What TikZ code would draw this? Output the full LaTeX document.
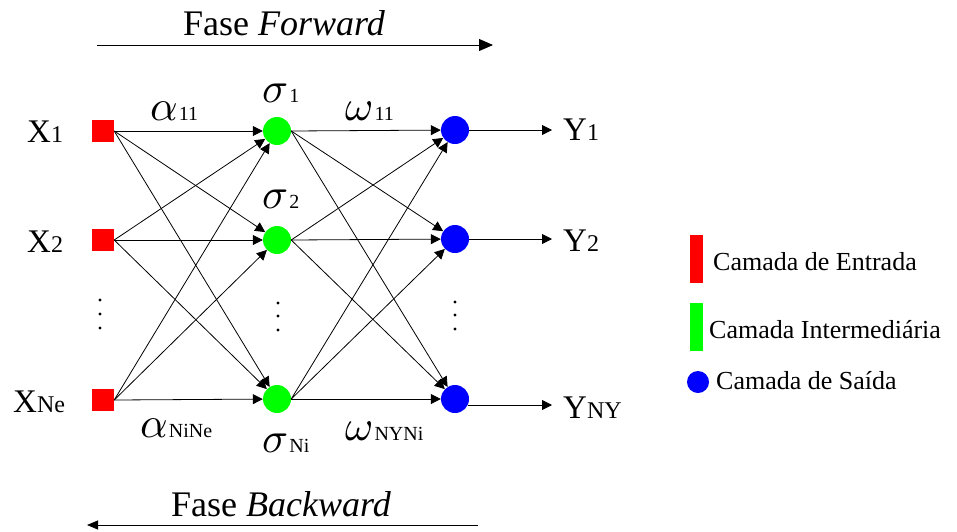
\documentclass[tikz,border=0pt]{standalone}
\usepackage{fontspec}
\setmainfont{Liberation Serif}
\usetikzlibrary{arrows.meta}
\begin{document}
\begin{tikzpicture}[x=1pt,y=-1pt,
  arr/.style={-{Triangle[length=10pt,width=10pt]},line width=0.8pt},
  inbox/.style={rectangle,fill=red,minimum size=22pt,inner sep=0pt},
  hidnode/.style={circle,fill=green,minimum size=28pt,inner sep=0pt},
  outnode/.style={circle,fill=blue,minimum size=28pt,inner sep=0pt},
  lbl/.style={inner sep=0pt,anchor=base west},
  dotmark/.style={circle,fill=black,minimum size=3.4pt,inner sep=0pt},
  big/.style={font=\fontsize{33}{33}\selectfont},
  legtxt/.style={inner sep=0pt,anchor=base west,font=\fontsize{26}{26}\selectfont},
  title/.style={inner sep=0pt,anchor=base,font=\fontsize{36}{36}\selectfont}]
\newcommand{\gk}[1]{\scalebox{4.3}{$#1$}\hspace{1pt}}
\newcommand{\sbs}[1]{{\fontsize{20}{20}\selectfont #1}}
\newcommand{\xs}[1]{{\fontsize{24}{24}\selectfont #1}}
\useasboundingbox (0,0) rectangle (957,531);
% phase arrows
\node[title] (tf) at (284,35) {Fase \textit{Forward}};
\coordinate (fa) at (97,45);
\coordinate (fb) at (493,45);
\draw[-{Triangle[length=14pt,width=12pt]},line width=0.9pt] (fa) -- (fb);
\node[title] (tb) at (281,516) {Fase \textit{Backward}};
\coordinate (ba) at (478,525);
\coordinate (bb) at (87,525);
\draw[-{Triangle[length=11pt,width=9pt]},line width=0.9pt] (ba) -- (bb);
% nodes
\node[inbox] (r1) at (103,131) {};
\node[inbox] (r2) at (103,240) {};
\node[inbox] (r3) at (103,400) {};
\node[hidnode] (g1) at (277,131) {};
\node[hidnode] (g2) at (277,240) {};
\node[hidnode] (g3) at (277,399) {};
\node[outnode] (b1) at (455,130) {};
\node[outnode] (b2) at (455,239) {};
\node[outnode] (b3) at (455,399) {};
% connections
\foreach \i in {1,2,3}{
  \foreach \j in {1,2,3}{
    \draw[arr] (r\i.east) -- (g\j);
    \draw[arr] (g\i.east) -- (b\j);
  }
}
% outputs
\coordinate (outx) at (552,0);
\draw[arr] (b1.east) -- (b1.east -| outx);
\draw[arr] (b2.east) -- (b2.east -| outx);
\draw[arr] (b3.-25) -- (b3.-25 -| outx);
% dots
\foreach \k/\y in {a/300,b/314,c/328}{
  \node[dotmark] (rd\k) at (100,\y) {};
}
\foreach \k/\y in {a/303,b/316,c/330}{
  \node[dotmark] (gd\k) at (278,\y) {};
}
\foreach \k/\y in {a/302,b/315,c/329}{
  \node[dotmark] (bd\k) at (455,\y) {};
}
% input / output labels
\node[lbl,big] (x1) at (27,142) {X\xs{1}};
\node[lbl,big] (x2) at (27,252) {X\xs{2}};
\node[lbl,big] (x3) at (13,412) {X\xs{Ne}};
\node[lbl,big] (y1) at (563,140) {Y\xs{1}};
\node[lbl,big] (y2) at (563,251) {Y\xs{2}};
\node[lbl,big] (y3) at (563,418) {Y\xs{NY}};
% weights and activations
\node[lbl] (a11) at (150,120) {\gk{\alpha}\sbs{11}};
\node[lbl] (s1) at (262,102) {\gk{\sigma}\sbs{1}};
\node[lbl] (s2) at (262,208) {\gk{\sigma}\sbs{2}};
\node[lbl] (w11) at (345,120) {\gk{\omega}\sbs{11}};
\node[lbl] (ann) at (140,437) {\gk{\alpha}\sbs{NiNe}};
\node[lbl] (sn) at (262,452) {\gk{\sigma}\sbs{Ni}};
\node[lbl] (wnn) at (345,440) {\gk{\omega}\sbs{NYNi}};
% legend
\node[rectangle,fill=red,minimum width=13pt,minimum height=48pt,inner sep=0pt] (lr) at (696.5,259) {};
\node[rectangle,fill=green,minimum width=13pt,minimum height=48pt,inner sep=0pt] (lg) at (696.5,327) {};
\node[circle,fill=blue,minimum size=22pt,inner sep=0pt] (lb) at (698,382) {};
\node[legtxt] (tr) at (713,270) {Camada de Entrada};
\node[legtxt] (tg) at (709,338) {Camada Intermediária};
\node[legtxt] (tbl) at (716,389) {Camada de Saída};
\end{tikzpicture}
\end{document}
